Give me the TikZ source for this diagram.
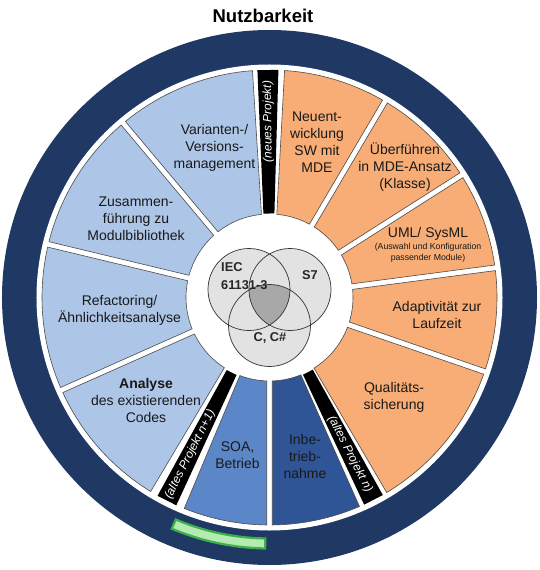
\documentclass[tikz,border=0pt]{standalone}
\usepackage{fontspec}
\setmainfont{Liberation Sans}
\definecolor{navy}{HTML}{1F3864}
\definecolor{lblue}{HTML}{ADC5E7}
\definecolor{mblue}{HTML}{5B87C8}
\definecolor{dblue}{HTML}{2F5597}
\definecolor{orng}{HTML}{F7AD75}
\definecolor{vgray}{HTML}{E2E2E2}
\definecolor{vdark}{HTML}{A8A8A8}
\definecolor{gfill}{HTML}{B3EBB0}
\definecolor{gline}{HTML}{3CB04A}
\definecolor{outl}{HTML}{4D4D4D}
\newcommand\mysector[3]{%
  \filldraw[secline, fill=#3] ({#1+0.7}:227.5pt) arc[start angle={#1+0.7}, end angle={#2-0.7}, radius=227.5pt]
    -- ({#2-1.92}:83.5pt) arc[start angle={#2-1.92}, end angle={#1+1.92}, radius=83.5pt] -- cycle;}
\newcommand\mystrip[4]{%
  \begin{scope}[rotate=#1]
    \fill[black] (84,-5.5) -- (227.5,-10.5) -- (227.5,10.5) -- (84,5.5) -- cycle;
    \node[striplabel, rotate=#2] (#3) at (176,0) {#4};
  \end{scope}}
\begin{document}
\begin{tikzpicture}[x=1pt,y=1pt,
  seclabel/.style={align=center, font=\fontsize{14}{17}\selectfont, text=black!90, inner sep=0pt},
  smalllabel/.style={align=center, font=\fontsize{8.7}{11}\selectfont, text=black!90, inner sep=0pt},
  striplabel/.style={font=\fontsize{12}{14}\selectfont\itshape, text=white, inner sep=0pt},
  vennlabel/.style={align=left, font=\fontsize{12.8}{18}\selectfont\bfseries, text=black!85, inner sep=0pt},
  titlelabel/.style={font=\fontsize{18.5}{22}\selectfont\bfseries, inner sep=0pt},
  secline/.style={draw=outl, line width=0.6pt}]
\useasboundingbox (-269.5,-272.5) rectangle (270.5,297.5);

% outer ring
\fill[navy] (0,0) circle[radius=267.5pt];
\fill[white] (0,0) circle[radius=233pt];

% sectors
\mysector{59.5}{86.9}{orng}
\mysector{32.5}{59.5}{orng}
\mysector{7.5}{32.5}{orng}
\mysector{-19}{7.5}{orng}
\mysector{-59.7}{-19}{orng}
\mysector{-90}{-66}{dblue}
\mysector{-112.7}{-90}{mblue}
\mysector{204}{239.2}{lblue}
\mysector{166.5}{204}{lblue}
\mysector{130}{166.5}{lblue}
\mysector{93.6}{130}{lblue}

% black strips
\mystrip{90.4}{90.4}{sneu}{(neues Projekt)}
\mystrip{297.2}{297.2}{saltn}{(altes Projekt n)}
\mystrip{243.2}{63.2}{saltn1}{(altes Projekt n+1)}

% green marker
\filldraw[fill=gfill, draw=gline, line width=2.2pt]
  (247.1:241pt) arc[start angle=247.1, end angle=269, radius=241pt]
  -- (269:251pt) arc[start angle=269, end angle=247.1, radius=251pt] -- cycle;

% Venn diagram
\fill[vgray] (-20.5,8) circle[radius=41pt] (20.5,8) circle[radius=41pt] (0,-28) circle[radius=41pt];
\begin{scope}
  \clip (-20.5,8) circle[radius=41pt];
  \clip (20.5,8) circle[radius=41pt];
  \fill[vdark] (0,-28) circle[radius=41pt];
\end{scope}
\draw[black!80, line width=0.7pt] (-20.5,8) circle[radius=41pt] (20.5,8) circle[radius=41pt] (0,-28) circle[radius=41pt];

\node[vennlabel, anchor=west] (iec) at (-48.5,21.5) {IEC\\61131-3};
\node[vennlabel] (s7) at (40.5,22.5) {S7};
\node[vennlabel] (cs) at (0.5,-40.5) {C, C\#};

% labels
\node[titlelabel] (title) at (-6.5,281.5) {Nutzbarkeit};
\node[seclabel] (var) at (-55,149.5) {Varianten-/\\Versions-\\management};
\node[seclabel] (neu) at (47.5,155.5) {Neuent-\\wicklung\\SW mit\\MDE};
\node[seclabel] (ueb) at (135.5,130.5) {Überführen\\in MDE-Ansatz\\(Klasse)};
\node[seclabel] (uml) at (158.5,63.5) {UML/ SysML};
\node[smalllabel] (umls) at (158.5,45) {(Auswahl und Konfiguration\\passender Module)};
\node[seclabel] (ada) at (167.5,-17.5) {Adaptivität zur\\Laufzeit};
\node[seclabel] (qual) at (124.5,-99.5) {Qualitäts-\\sicherung};
\node[seclabel] (inb) at (35.5,-158.5) {Inbe-\\trieb-\\nahme};
\node[seclabel] (soa) at (-32,-157.5) {SOA,\\Betrieb};
\node[seclabel] (ana) at (-123.5,-102.5) {\textbf{Analyse}\\des existierenden\\Codes};
\node[seclabel] (ref) at (-150,-12.5) {Refactoring/\\Ähnlichkeitsanalyse};
\node[seclabel] (zus) at (-133.5,78.5) {Zusammen-\\führung zu\\Modulbibliothek};
\end{tikzpicture}
\end{document}
